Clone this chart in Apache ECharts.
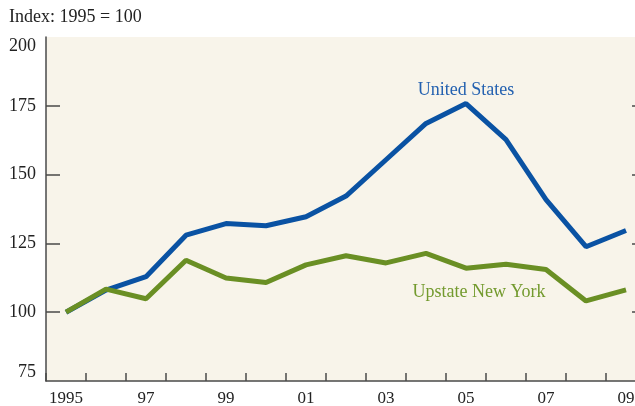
<!DOCTYPE html>
<html style="height: 100%">
<head>
    <meta charset="utf-8">
    <script src="https://cdn.jsdelivr.net/npm/echarts@6/dist/echarts.min.js"></script>
    <title>Index: 1995 = 100</title>
</head>
<body style="height: 100%; margin: 0; background: #fff">
<div id="container" style="width: 635px; height: 406px"></div>
<script type="text/javascript">
    let years = ['1995', '1996', '1997', '1998', '1999', '2000', '2001', '2002',
                 '2003', '2004', '2005', '2006', '2007', '2008', '2009'];
    let unitedStates = [100, 108, 112.9, 128, 132.2, 131.4, 134.7, 142.2,
                        155.4, 168.6, 175.8, 162.7, 140.9, 123.8, 129.7];
    let upstateNY = [100, 108.4, 104.9, 118.9, 112.4, 110.8, 117.2, 120.5,
                     117.9, 121.4, 116, 117.4, 115.5, 104.1, 108.1];
    let yTicks = [75, 100, 125, 150, 175, 200];

    let serif = '"Liberation Serif", "DejaVu Serif", serif';
    let axisColor = '#4a4a4a';

    let dom = document.getElementById("container");
    let chart = echarts.init(dom, null, {renderer: 'canvas'});

    // right y axis has the same ticks as the left one, no labels
    let yAxisBase = {
        type: 'value',
        min: yTicks[0],
        max: yTicks[yTicks.length - 1],
        interval: 25,
        axisLine: {show: true, lineStyle: {color: axisColor, width: 1.5}},
        axisTick: {show: true, inside: true, length: 14,
                   customValues: yTicks.slice(1, -1),
                   lineStyle: {color: axisColor, width: 1.5}},
        splitLine: {show: false}
    };

    // text label put on a data point, marker itself invisible
    function tag(text, coord, color, offset) {
        return {
            symbol: 'circle',
            symbolSize: 1,
            itemStyle: {color: 'rgba(0,0,0,0)'},
            data: [{coord: coord}],
            label: {
                show: true,
                position: 'inside',
                formatter: text,
                offset: offset || [0, 0],
                fontFamily: serif,
                fontSize: 18,
                color: color
            }
        };
    }

    chart.setOption({
        animation: false,
        textStyle: {fontFamily: serif},
        title: {
            text: 'Index: 1995 = 100',
            left: 4,
            top: 3,
            textStyle: {fontFamily: serif, fontSize: 18, fontWeight: 'normal', color: '#222'}
        },
        grid: {
            left: 46,
            top: 37,
            width: 600,
            bottom: 25,
            outerBoundsMode: 'none',
            containLabel: false,
            show: true,
            backgroundColor: '#f8f4ea',
            borderWidth: 0
        },
        xAxis: {
            type: 'category',
            data: years,
            boundaryGap: true,
            axisLine: {lineStyle: {color: axisColor, width: 1.5}},
            axisTick: {show: true, inside: true, length: 8, interval: 0,
                       lineStyle: {color: axisColor, width: 1.5}},
            axisLabel: {
                interval: 1,
                margin: 9,
                fontSize: 17,
                color: '#222',
                formatter: function (v, i) {
                    return i === 0 ? v : v.slice(2);
                }
            }
        },
        yAxis: [
            Object.assign({}, yAxisBase, {
                position: 'left',
                axisLabel: {
                    fontSize: 18,
                    color: '#222',
                    margin: 10,
                    verticalAlignMinLabel: 'bottom',
                    verticalAlignMaxLabel: 'top'
                }
            }),
            Object.assign({}, yAxisBase, {
                position: 'right',
                axisLabel: {show: false}
            })
        ],
        series: [
            {
                name: 'United States',
                type: 'line',
                data: unitedStates,
                symbol: 'none',
                lineStyle: {color: '#0a52a3', width: 5},
                itemStyle: {color: '#0a52a3'},
                markPoint: tag('United States', ['2005', 180.6], '#2461b0')
            },
            {
                name: 'Upstate New York',
                type: 'line',
                data: upstateNY,
                symbol: 'none',
                lineStyle: {color: '#6a8f24', width: 5},
                itemStyle: {color: '#6a8f24'},
                markPoint: tag('Upstate New York', ['2005', 107.2], '#739a2e', [13, 0])
            }
        ]
    }, true);
</script>
</body>
</html>
